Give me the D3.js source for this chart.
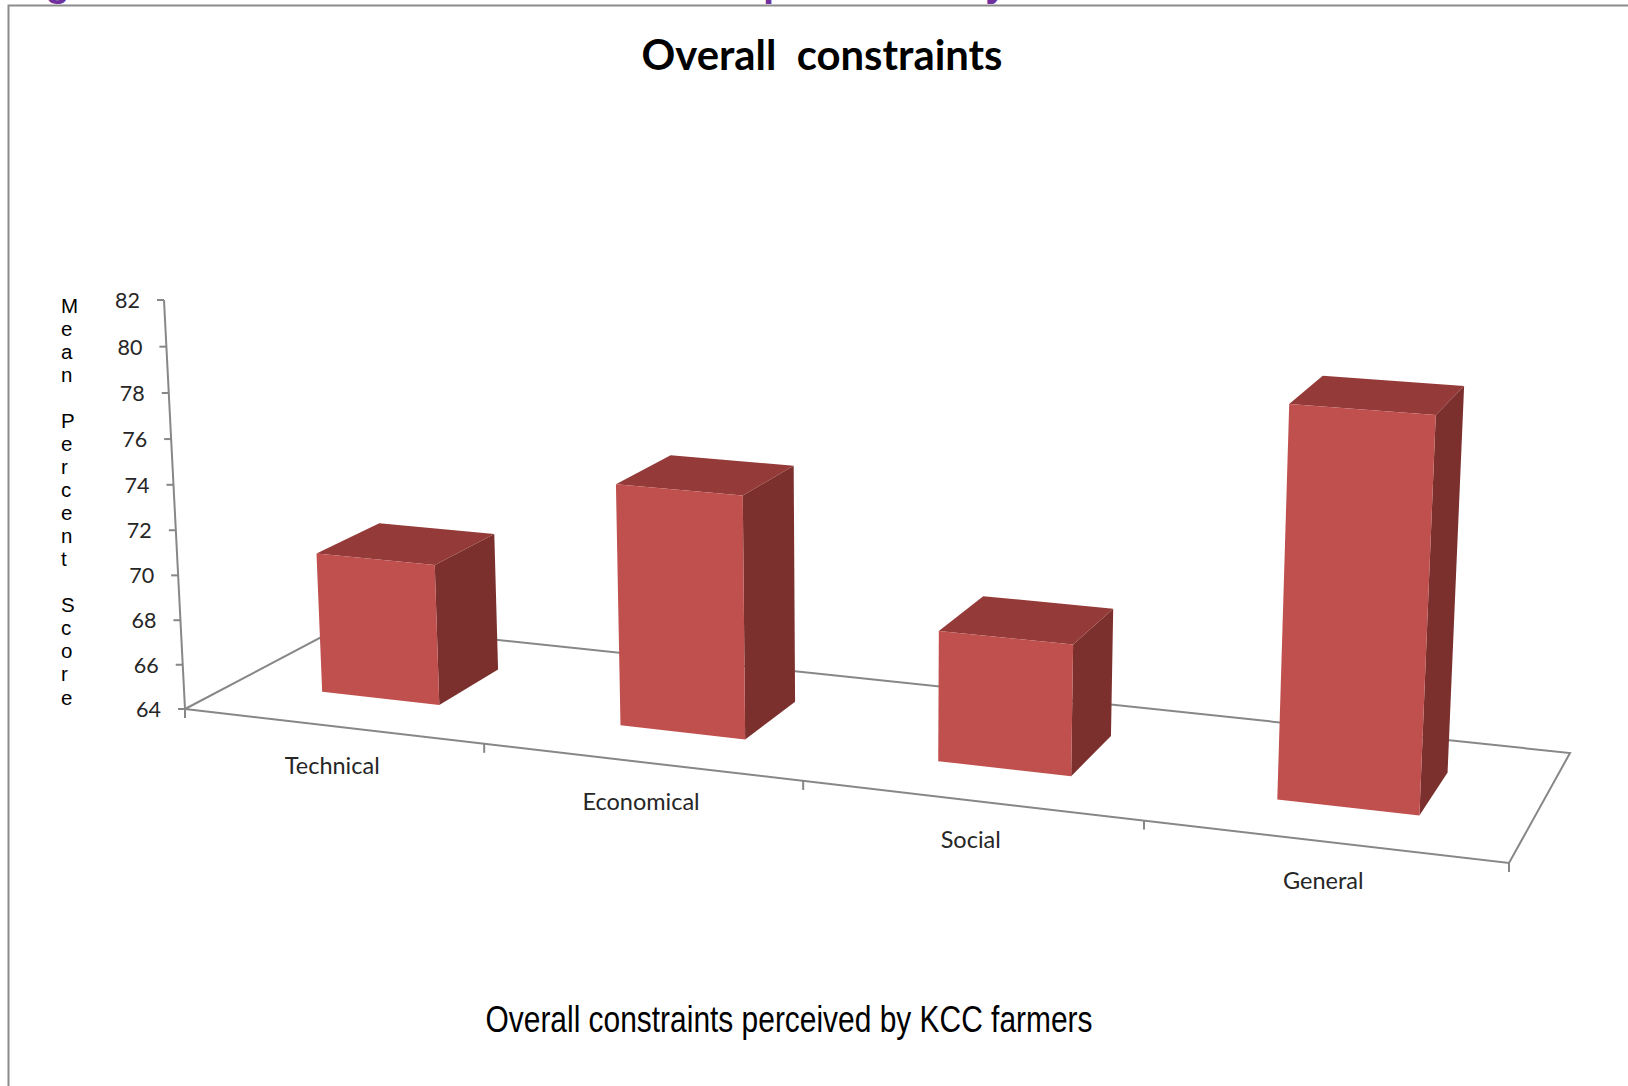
<!DOCTYPE html>
<html>
<head>
<meta charset="utf-8">
<script src="https://cdn.jsdelivr.net/npm/d3@7"></script>
<style>
  body { margin: 0; background: #fff; }
  svg { display: block; }
</style>
</head>
<body>
<svg id="chart"></svg>
<script>
const categories = ["Technical", "Economical", "Social", "General"]
const meanScores = [70.3, 74.6, 69.6, 80.2]
const yTicks = [64, 66, 68, 70, 72, 74, 76, 78, 80, 82]
const yTitleWords = ["Mean", "Percent", "Score"]
const chartTitle = "Overall  constraints"
const caption = "Overall constraints perceived by KCC farmers"
const headingParts = ["Figure 5: Overall constraints", "perceived by KCC farmers"]

const W = 1628, H = 1086

const svg = d3.select("#chart")
    .attr("width", W)
    .attr("height", H)

// where the floor corners land on screen (front-left, front-right, back-right, back-left)
const floorFL = [185, 709], floorFR = [1509, 863], floorBR = [1570, 753], floorBL = [346, 624]
const axisTop = [164, 300]       // top end of the value axis
const vanishV = [875, 14143]     // verticals converge far below

const red = "#c0504d", redTop = "#943a38", redSide = "#7b302e"
const grey = "#878787"

// category runs along the floor front (0..1), gap width 150%
const xScale = d3.scaleBand()
    .domain(categories)
    .range([0, 1])
    .paddingInner(0.6)
    .paddingOuter(0.3)

// one series in depth, gap depth 150%
const zScale = d3.scaleBand()
    .domain(["Mean score"])
    .range([0, 1])
    .paddingOuter(0.75)

const yScale = d3.scaleLinear()
    .domain([64, 82])
    .range([0, 1])

// unit square -> floor quad (Heckbert)
function squareToQuad(p0, p1, p2, p3) {
    const sx = p0[0] - p1[0] + p2[0] - p3[0], sy = p0[1] - p1[1] + p2[1] - p3[1]
    const dx1 = p1[0] - p2[0], dx2 = p3[0] - p2[0]
    const dy1 = p1[1] - p2[1], dy2 = p3[1] - p2[1]
    const den = dx1 * dy2 - dx2 * dy1
    const g = (sx * dy2 - dx2 * sy) / den
    const h = (dx1 * sy - sx * dy1) / den
    return {
        a: p1[0] - p0[0] + g * p1[0], b: p3[0] - p0[0] + h * p3[0], c: p0[0],
        d: p1[1] - p0[1] + g * p1[1], e: p3[1] - p0[1] + h * p3[1], f: p0[1],
        g: g, h: h
    }
}

const H2 = squareToQuad(floorFL, floorFR, floorBR, floorBL)
const k = (axisTop[1] - floorFL[1]) / (vanishV[1] - axisTop[1])

// u: along categories, t: height (0..1), v: depth
function project(u, t, v) {
    const X = H2.a * u + H2.b * v + H2.c + k * vanishV[0] * t
    const Y = H2.d * u + H2.e * v + H2.f + k * vanishV[1] * t
    const Wt = H2.g * u + H2.h * v + 1 + k * t
    return [X / Wt, Y / Wt]
}

const poly = d3.line()

// purple heading of the page above, only its descenders are left in the crop
const head = svg.append("text")
    .attr("y", -4.5)
    .attr("font-family", "Liberation Sans, Arial, sans-serif")
    .attr("font-weight", "bold")
    .attr("font-size", 40)
    .attr("fill", "#7030a0")
head.append("tspan").attr("x", 10).text(headingParts[0])
head.append("tspan").attr("x", 763).text(headingParts[1])

// frame
svg.append("path")
    .attr("d", `M8.5,${H} V5.5 H${W}`)
    .attr("fill", "none")
    .attr("stroke", "#8c8c8c")
    .attr("stroke-width", 2)

svg.append("text")
    .attr("x", 822)
    .attr("y", 54)
    .attr("text-anchor", "middle")
    .attr("dominant-baseline", "central")
    .attr("font-family", "Lato, sans-serif")
    .attr("font-weight", "bold")
    .attr("font-size", 42)
    .attr("textLength", 361)
    .attr("lengthAdjust", "spacingAndGlyphs")
    .style("white-space", "pre")
    .attr("fill", "#000")
    .text(chartTitle)

// floor outline
const floor = [[0, 0, 0], [1, 0, 0], [1, 0, 1], [0, 0, 1]].map(p => project(p[0], p[1], p[2]))
svg.append("path")
    .attr("d", poly(floor) + "Z")
    .attr("fill", "none")
    .attr("stroke", grey)
    .attr("stroke-width", 2)

// category ticks on the front edge
const step = xScale.step()
const catTicks = d3.range(categories.length + 1).map(i => project(i * step, 0, 0))
svg.append("g")
    .selectAll("line")
    .data(catTicks)
    .join("line")
    .attr("x1", d => d[0]).attr("y1", d => d[1])
    .attr("x2", d => d[0]).attr("y2", d => d[1] + 9)
    .attr("stroke", grey)
    .attr("stroke-width", 2)

svg.append("g")
    .selectAll("text")
    .data(categories)
    .join("text")
    .each(function (d) {
        const p = project(xScale(d) + xScale.bandwidth() / 2, 0, 0)
        d3.select(this).attr("x", p[0]).attr("y", p[1] + 39)
    })
    .attr("text-anchor", "middle")
    .attr("dominant-baseline", "central")
    .attr("font-family", "Lato, sans-serif")
    .attr("font-size", 23.5)
    .attr("fill", "#262626")
    .text(d => d)

// value axis
const axisBottom = project(0, 0, 0), axisTopP = project(0, 1, 0)
svg.append("line")
    .attr("x1", axisBottom[0]).attr("y1", axisBottom[1])
    .attr("x2", axisTopP[0]).attr("y2", axisTopP[1])
    .attr("stroke", grey)
    .attr("stroke-width", 2)

const yAxis = svg.append("g")
yAxis.selectAll("line")
    .data(yTicks)
    .join("line")
    .each(function (v) {
        const p = project(0, yScale(v), 0)
        d3.select(this).attr("x1", p[0]).attr("y1", p[1]).attr("x2", p[0] - 7).attr("y2", p[1])
    })
    .attr("stroke", grey)
    .attr("stroke-width", 2)

yAxis.selectAll("text")
    .data(yTicks)
    .join("text")
    .each(function (v) {
        const p = project(0, yScale(v), 0)
        d3.select(this).attr("x", p[0] - 24).attr("y", p[1])
    })
    .attr("text-anchor", "end")
    .attr("dominant-baseline", "central")
    .attr("font-family", "Lato, sans-serif")
    .attr("font-size", 21.5)
    .attr("fill", "#262626")
    .text(d => d)

// stacked letters of the axis title
const letters = []
yTitleWords.forEach((w, i) => {
    if (i > 0) letters.push(" ")
    w.split("").forEach(ch => letters.push(ch))
})
svg.append("g")
    .selectAll("text")
    .data(letters)
    .join("text")
    .attr("x", 61)
    .attr("y", (d, i) => 305 + i * 23.06)
    .attr("dominant-baseline", "central")
    .attr("font-family", "Liberation Sans, Arial, sans-serif")
    .attr("font-size", 20.5)
    .attr("fill", "#000")
    .text(d => d)

// bars
const u = xScale.bandwidth(), v0 = zScale("Mean score"), v1 = v0 + zScale.bandwidth()
const bars = svg.append("g")
    .selectAll("g")
    .data(categories.map((c, i) => ({ cat: c, value: meanScores[i] })))
    .join("g")

bars.append("path")
    .attr("d", d => {
        const a = xScale(d.cat), b = a + u, t = yScale(d.value)
        return poly([[b, 0, v0], [b, 0, v1], [b, t, v1], [b, t, v0]].map(p => project(...p))) + "Z"
    })
    .attr("fill", redSide)

bars.append("path")
    .attr("d", d => {
        const a = xScale(d.cat), b = a + u, t = yScale(d.value)
        return poly([[a, t, v0], [b, t, v0], [b, t, v1], [a, t, v1]].map(p => project(...p))) + "Z"
    })
    .attr("fill", redTop)

bars.append("path")
    .attr("d", d => {
        const a = xScale(d.cat), b = a + u, t = yScale(d.value)
        return poly([[a, 0, v0], [b, 0, v0], [b, t, v0], [a, t, v0]].map(p => project(...p))) + "Z"
    })
    .attr("fill", red)

svg.append("text")
    .attr("x", 789)
    .attr("y", 1019)
    .attr("text-anchor", "middle")
    .attr("dominant-baseline", "central")
    .attr("font-family", "Liberation Sans, Arial, sans-serif")
    .attr("font-size", 36)
    .attr("textLength", 607)
    .attr("lengthAdjust", "spacingAndGlyphs")
    .attr("fill", "#000")
    .text(caption)
</script>
</body>
</html>
